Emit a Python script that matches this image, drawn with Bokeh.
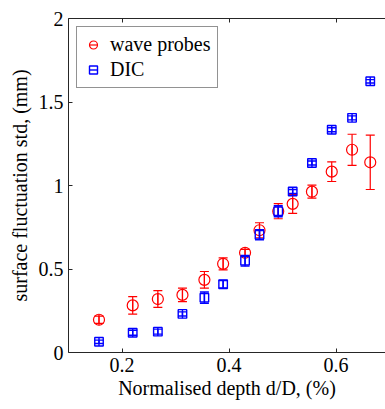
from bokeh.plotting import figure
from bokeh.models import (ColumnDataSource, LinearAxis, Legend, LegendItem, FixedTicker,
                          Range1d, CustomJSTickFormatter)
from bokeh.embed import file_html
from bokeh.resources import INLINE
import numpy as np

# data
depth = [0.157, 0.220, 0.267, 0.313, 0.354, 0.389, 0.430, 0.457, 0.492, 0.519, 0.555, 0.592, 0.630, 0.664]
wave_std = [0.196, 0.282, 0.320, 0.345, 0.435, 0.531, 0.597, 0.732, 0.846, 0.890, 0.963, 1.083, 1.214, 1.139]
wave_err = [0.022, 0.052, 0.050, 0.040, 0.050, 0.036, 0.020, 0.045, 0.045, 0.057, 0.039, 0.059, 0.093, 0.163]
dic_std = [0.064, 0.118, 0.125, 0.231, 0.328, 0.409, 0.549, 0.705, 0.846, 0.964, 1.135, 1.334, 1.405, 1.624]
dic_err = [0.010, 0.015, 0.015, 0.012, 0.034, 0.022, 0.032, 0.030, 0.033, 0.012, 0.012, 0.012, 0.012, 0.010]
x_ticks = [0.2, 0.4, 0.6]
y_ticks = [0, 0.5, 1, 1.5, 2]
y_tick_labels = ["0", "0.5", "1", "1.5", "2"]

FONT = "Liberation Serif"
AX = "#262626"
RED = "#ff0000"
BLUE = "#0000ff"

p = figure(width=385, height=409, output_backend="svg", toolbar_location=None,
           x_range=Range1d(0.1, 0.6925), y_range=Range1d(0, 2),
           min_border_left=68, min_border_right=0, min_border_top=18, min_border_bottom=57)
p.outline_line_color = None
p.grid.visible = False
p.background_fill_color = "white"
p.border_fill_color = "white"

def src(x, y, e):
    y = np.array(y); e = np.array(e)
    return ColumnDataSource(dict(x=x, y=y, lo=y - e, hi=y + e))

ws = src(depth, wave_std, wave_err)
ds = src(depth, dic_std, dic_err)

legend_items = []
for s, col, marker, size, lw, name in [(ws, RED, "circle", 11, 1.2, "wave probes"),
                                        (ds, BLUE, "square", 8.5, 1.4, "DIC")]:
    p.segment(x0="x", y0="lo", x1="x", y1="hi", source=s, line_color=col, line_width=lw)
    p.scatter(x="x", y="lo", source=s, marker="dash", size=9, line_color=col, line_width=lw)
    p.scatter(x="x", y="hi", source=s, marker="dash", size=9, line_color=col, line_width=lw)
    vbar = p.scatter(x="x", y="y", source=s, marker="dash", angle=np.pi / 2, size=size,
                     line_color=col, line_width=lw)
    m = p.scatter(x="x", y="y", source=s, marker=marker, size=size, fill_color=None,
                  line_color=col, line_width=lw)
    legend_items.append(LegendItem(label=name, renderers=[vbar, m]))

legend = Legend(items=legend_items, location="top_left", margin=8, padding=6, spacing=2,
                glyph_width=20, glyph_height=21, label_standoff=7, label_height=21,
                label_text_font=FONT, label_text_font_size="20px", label_text_color="black",
                border_line_color=AX, border_line_width=1, background_fill_color="white",
                background_fill_alpha=1)
p.add_layout(legend)

for ax in [p.xaxis[0], p.yaxis[0]]:
    ax.major_tick_in = 4
    ax.major_tick_out = 0
    ax.minor_tick_line_color = None
    ax.axis_line_color = AX
    ax.major_tick_line_color = AX
    ax.major_label_text_font = FONT
    ax.major_label_text_font_size = "20px"
    ax.major_label_text_color = "black"
    ax.axis_label_text_font = FONT
    ax.axis_label_text_font_size = "20px"
    ax.axis_label_text_font_style = "normal"
    ax.axis_label_text_color = "black"

p.xaxis[0].ticker = FixedTicker(ticks=x_ticks)
p.yaxis[0].ticker = FixedTicker(ticks=y_ticks)
p.yaxis[0].major_label_overrides = {t: l for t, l in zip(y_ticks, y_tick_labels)}
p.xaxis[0].axis_label = "Normalised depth d/D, (%)"
p.yaxis[0].axis_label = "surface fluctuation std, (mm)"
p.xaxis[0].major_label_standoff = 5
p.xaxis[0].axis_label_standoff = 2
p.yaxis[0].major_label_standoff = 5
p.yaxis[0].axis_label_standoff = 5

top = LinearAxis(ticker=FixedTicker(ticks=x_ticks), major_tick_in=4, major_tick_out=0,
                 minor_tick_line_color=None,
                 formatter=CustomJSTickFormatter(code="return ''"),
                 major_label_standoff=0, axis_line_color=AX, major_tick_line_color=AX)
p.add_layout(top, "above")

open("out.html", "w").write(file_html(p, INLINE))
